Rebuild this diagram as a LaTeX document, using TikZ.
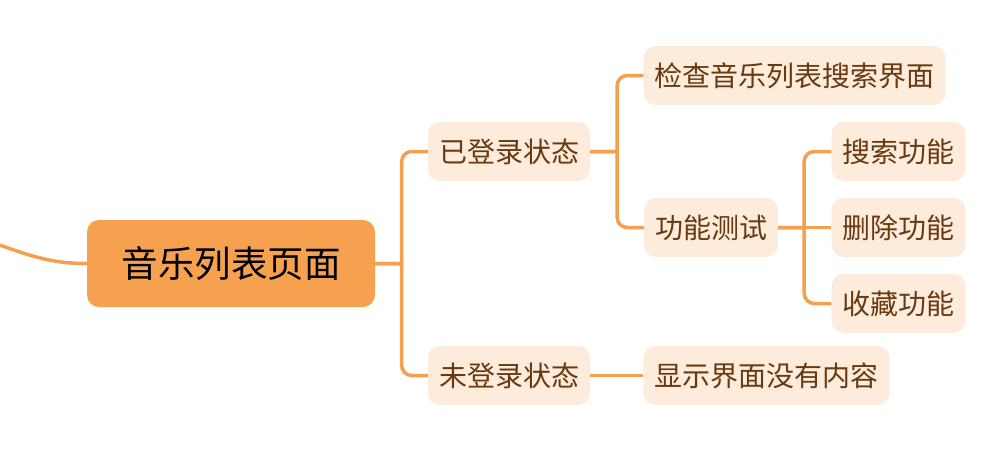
\documentclass[tikz,border=0pt]{standalone}
\usepackage{fontspec}
\setmainfont{Noto Sans CJK SC}
\usetikzlibrary{positioning}
\definecolor{branchline}{RGB}{244,160,78}
\definecolor{rootfill}{RGB}{245,161,80}
\definecolor{leaffill}{RGB}{253,235,220}
\definecolor{leaftext}{RGB}{105,58,16}

\begin{document}
\begin{tikzpicture}[
        x=1pt, y=-1pt,
        rootbox/.style={fill=rootfill, rounded corners=12pt, minimum width=288pt, minimum height=87pt,
            font=\fontsize{36.5}{42}\selectfont, text height=32pt, text depth=4.4pt},
        leafbox/.style={fill=leaffill, text=leaftext, rounded corners=12pt, minimum height=59pt, inner xsep=11pt,
            font=\fontsize{28}{33}\selectfont, text height=24.6pt, text depth=3.4pt},
        link/.style={draw=branchline, line width=3.5pt},
        elbow/.style={rounded corners=10pt}
    ]
        \useasboundingbox (0,0) rectangle (1008,474);

        \node[rootbox] (page) at (231,263.5) {音乐列表页面};

        \node[leafbox] (login) at (509,151.5) {已登录状态};
        \node[leafbox] (nologin) at (509,375.5) {未登录状态};

        \node[leafbox] (check) at (794.5,75.5) {检查音乐列表搜索界面};
        \node[leafbox] (functest) at (711,227.5) {功能测试};
        \node[leafbox] (empty) at (766.5,375.5) {显示界面没有内容};

        \node[leafbox] (search) at (898.5,151.5) {搜索功能};
        \node[leafbox] (delete) at (898.5,227.5) {删除功能};
        \node[leafbox] (collect) at (898.5,303.5) {收藏功能};

        \coordinate (upper) at (-20,238);
        \draw[link] (upper) .. controls (30,256) and (50,263.5) .. (page.west);

        \draw[link] (page.east) -- ++(26.5,0) [elbow] |- (login.west);
        \draw[link] (page.east) -- ++(26.5,0) [elbow] |- (nologin.west);

        \draw[link] (login.east) -- ++(27,0) [elbow] |- (check.west);
        \draw[link] (login.east) -- ++(27,0) [elbow] |- (functest.west);
        \draw[link] (nologin.east) -- (empty.west);

        \draw[link] (functest.east) -- ++(26,0) [elbow] |- (search.west);
        \draw[link] (functest.east) -- (delete.west);
        \draw[link] (functest.east) -- ++(26,0) [elbow] |- (collect.west);
    \end{tikzpicture}
\end{document}
